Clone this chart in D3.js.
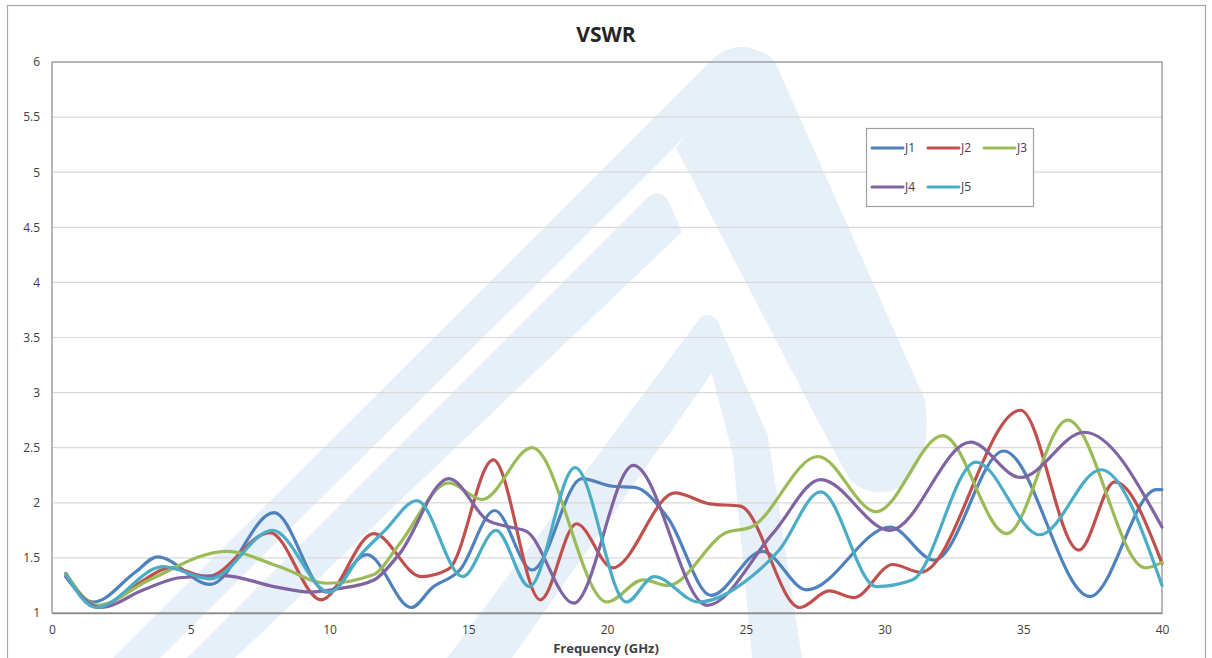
<!DOCTYPE html>
<html>
<head>
<meta charset="utf-8">
<script src="https://cdn.jsdelivr.net/npm/d3@7"></script>
<style>
  body { margin: 0; background: #fff; }
  text { font-family: "Open Sans", sans-serif; }
</style>
</head>
<body>
<svg id="chart" width="1212" height="658"></svg>
<script>
// series (GHz, VSWR)
var seriesNames = ["J1", "J2", "J3", "J4", "J5"];
var seriesColors = ["#4f81bd", "#c0504d", "#9bbb59", "#8064a2", "#4bacc6"];

var j1Freq = [0.5, 1.5, 3.0, 3.8, 5.7, 8.0, 9.9, 11.35, 12.95, 13.7, 14.7, 15.95, 17.3, 19.1, 20.2, 21.0, 22.2, 23.75, 25.6, 27.2, 30.2, 31.8, 34.3, 37.4, 39.8, 40];
var j1Vswr = [1.33, 1.10, 1.37, 1.51, 1.26, 1.91, 1.19, 1.53, 1.05, 1.23, 1.39, 1.93, 1.39, 2.22, 2.15, 2.14, 1.86, 1.16, 1.56, 1.21, 1.78, 1.48, 2.47, 1.15, 2.12, 2.12];

var j2Freq = [0.5, 1.65, 3.0, 4.3, 5.6, 7.85, 9.7, 11.6, 13.3, 14.3, 15.9, 17.6, 18.9, 20.2, 22.45, 23.7, 24.8, 26.95, 28.0, 28.9, 30.3, 31.3, 34.9, 37.0, 38.3, 40];
var j2Vswr = [1.36, 1.05, 1.25, 1.41, 1.33, 1.73, 1.12, 1.72, 1.33, 1.40, 2.39, 1.12, 1.81, 1.41, 2.09, 1.99, 1.97, 1.05, 1.20, 1.14, 1.44, 1.37, 2.84, 1.57, 2.19, 1.45];

var j3Freq = [0.5, 1.65, 3.5, 6.3, 8.2, 9.9, 11.6, 12.5, 14.3, 15.5, 17.3, 20.0, 21.3, 22.2, 24.3, 25.2, 27.6, 29.7, 32.1, 34.4, 36.6, 39.4, 40];
var j3Vswr = [1.36, 1.07, 1.30, 1.56, 1.42, 1.27, 1.35, 1.62, 2.18, 2.03, 2.50, 1.10, 1.30, 1.25, 1.73, 1.78, 2.42, 1.92, 2.61, 1.72, 2.75, 1.41, 1.46];

var j4Freq = [0.5, 1.75, 3.3, 4.6, 6.2, 8.0, 9.3, 10.3, 11.6, 12.5, 14.3, 15.7, 16.5, 17.1, 18.8, 20.95, 23.6, 26.0, 27.7, 30.2, 33.1, 34.9, 37.2, 40];
var j4Vswr = [1.33, 1.05, 1.21, 1.32, 1.34, 1.24, 1.19, 1.22, 1.30, 1.53, 2.22, 1.84, 1.78, 1.74, 1.09, 2.34, 1.07, 1.73, 2.21, 1.75, 2.55, 2.23, 2.64, 1.78];

var j5Freq = [0.5, 1.6, 4.0, 5.7, 7.95, 10.0, 11.2, 12.0, 13.15, 14.8, 16.0, 17.2, 18.85, 20.7, 21.7, 23.3, 25.2, 26.2, 27.7, 29.7, 31.0, 33.3, 35.6, 37.8, 40];
var j5Vswr = [1.35, 1.05, 1.42, 1.31, 1.75, 1.19, 1.55, 1.75, 2.02, 1.33, 1.75, 1.24, 2.32, 1.10, 1.33, 1.10, 1.33, 1.57, 2.10, 1.24, 1.30, 2.37, 1.71, 2.30, 1.25];

var xTicks = [0, 5, 10, 15, 20, 25, 30, 35, 40];
var yTicks = [1, 1.5, 2, 2.5, 3, 3.5, 4, 4.5, 5, 5.5, 6];

var allFreq = [j1Freq, j2Freq, j3Freq, j4Freq, j5Freq];
var allVswr = [j1Vswr, j2Vswr, j3Vswr, j4Vswr, j5Vswr];

var svg = d3.select("#chart"),
    width = +svg.attr("width"),
    height = +svg.attr("height");

var margin = {top: 62, right: 50, bottom: 45, left: 52};

var x = d3.scaleLinear().domain([0, 40]).range([margin.left, width - margin.right]);
var y = d3.scaleLinear().domain([1, 6]).range([height - margin.bottom, margin.top]);

// outer chart frame
svg.append("rect")
    .attr("x", 7.5).attr("y", 5.5)
    .attr("width", 1198).attr("height", 670)
    .attr("fill", "#fff")
    .attr("stroke", "#a6a6a6")
    .attr("stroke-width", 1.2);

// faint logo watermark behind the plot
var wm = svg.append("g").attr("fill", "#e7eff8");
var wmShapes = [
    "M113,658 L716,56 Q740,40 760,52 L672,150 L160,658 Z",
    "M748,50 Q768,50 776,64 L925,400 Q934,462 898,488 Q872,500 850,480 L820,425 L676,148 Z",
    "M187,658 L648,197 Q660,188 668,200 L682,232 L235,658 Z",
    "M447,658 L700,318 Q710,310 718,322 L728,350 L512,658 Z",
    "M718,322 L768,436 L802,658 L752,658 L733,455 L706,352 Z"
];
wm.selectAll("path").data(wmShapes).enter().append("path").attr("d", function(d) { return d; });

// gridlines
svg.append("g")
    .selectAll("line")
    .data(yTicks.filter(function(d) { return d > 1 && d < 6; }))
    .enter().append("line")
    .attr("x1", x(0)).attr("x2", x(40))
    .attr("y1", function(d) { return y(d); })
    .attr("y2", function(d) { return y(d); })
    .attr("stroke", "#d9d9d9")
    .attr("stroke-width", 1.2);

// plot border
svg.append("rect")
    .attr("x", x(0)).attr("y", y(6))
    .attr("width", x(40) - x(0)).attr("height", y(1) - y(6))
    .attr("fill", "none")
    .attr("stroke", "#a0a0a0")
    .attr("stroke-width", 1.5);

// axes
var fmt = d3.format("~g");

var yAxis = svg.append("g")
    .attr("transform", "translate(" + (x(0) - 2) + ",0)")
    .call(d3.axisLeft(y).tickValues(yTicks).tickFormat(fmt).tickSize(0).tickPadding(10));
yAxis.select(".domain").remove();
yAxis.selectAll("text").attr("font-size", 12).attr("fill", "#404040").style("font-family", "'Open Sans', sans-serif");

var xAxis = svg.append("g")
    .attr("transform", "translate(0," + y(1) + ")")
    .call(d3.axisBottom(x).tickValues(xTicks).tickFormat(fmt).tickSize(0).tickPadding(12));
xAxis.select(".domain").attr("stroke", "#8c8c8c").attr("stroke-width", 1.5);
xAxis.selectAll("text").attr("font-size", 12).attr("fill", "#404040").style("font-family", "'Open Sans', sans-serif");

// lines
var line = d3.line()
    .x(function(d) { return x(d[0]); })
    .y(function(d) { return y(d[1]); })
    .curve(d3.curveMonotoneX);

seriesNames.forEach(function(name, i) {
    var pts = allFreq[i].map(function(f, k) { return [f, allVswr[i][k]]; });
    svg.append("path")
        .datum(pts)
        .attr("fill", "none")
        .attr("stroke", seriesColors[i])
        .attr("stroke-width", 3.2)
        .attr("stroke-linecap", "round")
        .attr("stroke-linejoin", "round")
        .attr("d", line);
});

// title
svg.append("text")
    .attr("x", 606).attr("y", 42)
    .attr("text-anchor", "middle")
    .attr("font-size", 21)
    .attr("font-weight", "bold")
    .attr("fill", "#262626")
    .text("VSWR");

svg.append("text")
    .attr("x", 606).attr("y", 653)
    .attr("text-anchor", "middle")
    .attr("font-size", 13)
    .attr("font-weight", "bold")
    .attr("fill", "#404040")
    .text("Frequency (GHz)");

// legend
var legend = svg.append("g").attr("transform", "translate(866,128)");
legend.append("rect")
    .attr("x", 0.5).attr("y", 0.5)
    .attr("width", 167).attr("height", 78)
    .attr("fill", "#fff")
    .attr("stroke", "#a0a0a0")
    .attr("stroke-width", 1.2);

var item = legend.selectAll("g.item")
    .data(seriesNames)
    .enter().append("g")
    .attr("class", "item")
    .attr("transform", function(d, i) {
        return "translate(" + (6 + (i % 3) * 56) + "," + (i < 3 ? 20 : 59) + ")";
    });
item.append("line")
    .attr("x1", 0).attr("x2", 31)
    .attr("stroke", function(d, i) { return seriesColors[i]; })
    .attr("stroke-width", 3)
    .attr("stroke-linecap", "round");
item.append("text")
    .attr("x", 33).attr("dy", "0.35em")
    .attr("font-size", 12)
    .attr("fill", "#404040")
    .text(function(d) { return d; });
</script>
</body>
</html>
